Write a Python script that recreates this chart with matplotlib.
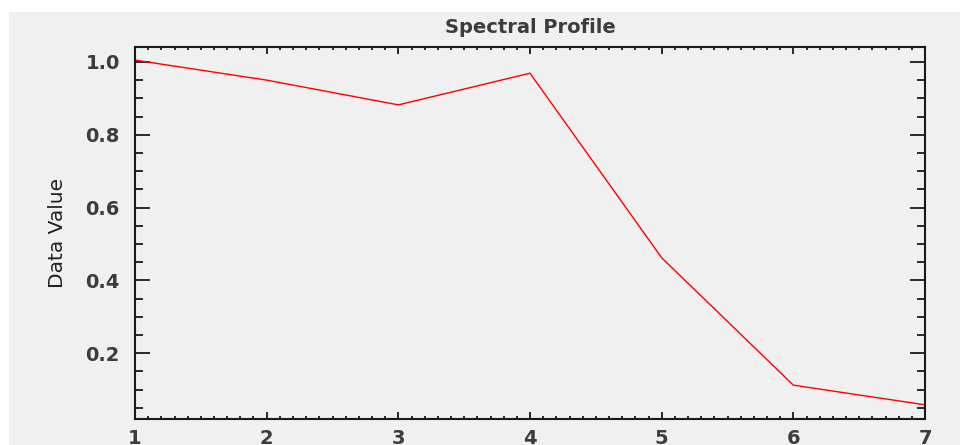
import matplotlib
matplotlib.use("Agg")
import matplotlib.pyplot as plt
from matplotlib.patches import Rectangle
from matplotlib.ticker import MultipleLocator, FormatStrFormatter

bands = [1, 2, 3, 4, 5, 6, 7]
values = [1.005, 0.950, 0.882, 0.969, 0.462, 0.112, 0.058]
x_ticks = [1, 2, 3, 4, 5, 6, 7]
y_ticks = [0.2, 0.4, 0.6, 0.8, 1.0]

W, H = 960, 445
fig = plt.figure(figsize=(W / 100, H / 100), dpi=100, facecolor="white")
bg = "#f0f0f0"
fig.patches.append(Rectangle((9 / W, 0), 1 - 9 / W, (H - 12) / H,
                             transform=fig.transFigure, facecolor=bg,
                             edgecolor="none", zorder=-10))

left, right, top, bottom = 135, 925, 47, 419
ax = fig.add_axes([left / W, (H - bottom) / H, (right - left) / W, (bottom - top) / H])
ax.set_facecolor(bg)

ax.plot(bands, values, color="#ff0000", lw=1.0)

ax.set_xlim(1, 7)
ax.set_ylim(0.019, 1.041)
ax.set_xticks(x_ticks)
ax.set_yticks(y_ticks)
ax.yaxis.set_major_formatter(FormatStrFormatter("%.1f"))
ax.xaxis.set_minor_locator(MultipleLocator(0.1))
ax.yaxis.set_minor_locator(MultipleLocator(0.05))

tc = "#1a1a1a"
txt = "#3c3c3c"
for s in ax.spines.values():
    s.set_linewidth(1.5)
    s.set_color(tc)

ax.tick_params(axis="y", which="major", direction="in", length=11, width=1.3,
               left=True, right=True, color=tc, pad=11)
ax.tick_params(axis="y", which="minor", direction="in", length=6, width=1.3,
               left=True, right=True, color=tc)
ax.tick_params(axis="x", which="major", direction="in", length=5, width=1.3,
               bottom=True, top=True, color=tc, pad=7)
ax.tick_params(axis="x", which="minor", direction="in", length=2.5, width=1.3,
               bottom=True, top=True, color=tc)

for lab in ax.get_xticklabels() + ax.get_yticklabels():
    lab.set_fontweight("bold")
    lab.set_fontsize(14)
    lab.set_color(txt)
    lab.set_family("DejaVu Sans")

ax.set_title("Spectral Profile", fontsize=14, fontweight="bold", color=txt, pad=10)
ax.set_ylabel("Data Value", fontsize=14.5, color="#202020", labelpad=13)

fig.savefig("out.png", dpi=100, facecolor="white")
